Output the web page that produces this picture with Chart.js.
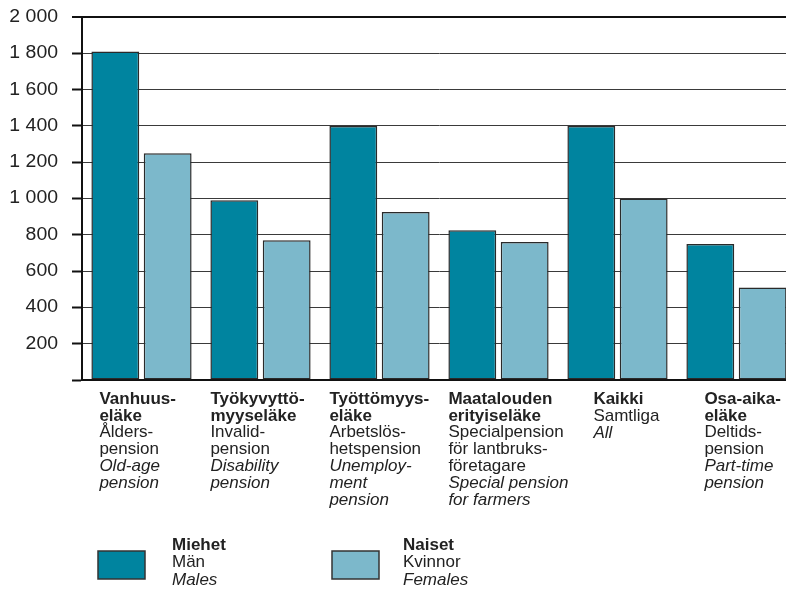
<!DOCTYPE html>
<html>
<head>
<meta charset="utf-8">
<script src="https://cdn.jsdelivr.net/npm/chart.js@4/dist/chart.umd.min.js"></script>
<style>
  html, body { margin: 0; padding: 0; background: #fff; overflow: hidden; }
  #wrap { width: 800px; height: 589px; }
</style>
</head>
<body>
<div id="wrap"><canvas id="chart" width="800" height="589"></canvas></div>
<script>
// data
const categories = ['Vanhuuseläke', 'Työkyvyttömyyseläke', 'Työttömyyseläke', 'Maatalouden erityiseläke', 'Kaikki', 'Osa-aikaeläke'];
const males = [1810, 990, 1400, 825, 1400, 750];
const females = [1250, 770, 925, 760, 1000, 510];
const yTicks = [0, 200, 400, 600, 800, 1000, 1200, 1400, 1600, 1800, 2000];

// label text per category: bold lines, swedish lines, english (italic) lines
const boldLines = [['Vanhuus-', 'eläke'], ['Työkyvyttö-', 'myyseläke'], ['Työttömyys-', 'eläke'], ['Maatalouden', 'erityiseläke'], ['Kaikki'], ['Osa-aika-', 'eläke']];
const svLines = [['Ålders-', 'pension'], ['Invalid-', 'pension'], ['Arbetslös-', 'hetspension'], ['Specialpension', 'för lantbruks-', 'företagare'], ['Samtliga'], ['Deltids-', 'pension']];
const enLines = [['Old-age', 'pension'], ['Disability', 'pension'], ['Unemploy-', 'ment', 'pension'], ['Special pension', 'for farmers'], ['All'], ['Part-time', 'pension']];

const legendNames = [['Miehet', 'Män', 'Males'], ['Naiset', 'Kvinnor', 'Females']];

const MEN = '#00849f';
const WOMEN = '#7cb8cb';
const FONT = "'Liberation Sans', Arial, sans-serif";

function fmt(v) {
    return String(v).replace(/\B(?=(\d{3})+(?!\d))/g, ' ');
}

const labelPlugin = {
    id: 'labels',
    afterDraw(chart) {
        const ctx = chart.ctx;
        const meta = chart.getDatasetMeta(0);
        const yScale = chart.scales.y;
        const offs = [8, 0, 0, 0, 26, 18];
        ctx.save();
        ctx.fillStyle = '#222';
        ctx.textBaseline = 'middle';

        // y tick labels, a little wide like the original
        ctx.textAlign = 'right';
        ctx.font = '18px ' + FONT;
        yTicks.forEach(v => {
            if (v === 0) return;
            const y = yScale.getPixelForValue(v);
            ctx.save();
            ctx.translate(58, y);
            ctx.scale(1.08, 1);
            ctx.fillText(fmt(v), 0, 0);
            ctx.restore();
        });

        ctx.textAlign = 'left';
        categories.forEach((c, i) => {
            const bar = meta.data[i];
            const x = bar.x - bar.width / 2 + offs[i];
            let y = 399;
            boldLines[i].forEach(t => {
                ctx.font = 'bold 17px ' + FONT;
                ctx.fillText(t, x, y); y += 16.9;
            });
            svLines[i].forEach(t => {
                ctx.font = '17px ' + FONT;
                ctx.fillText(t, x, y); y += 16.9;
            });
            enLines[i].forEach(t => {
                ctx.font = 'italic 17px ' + FONT;
                ctx.fillText(t, x, y); y += 16.9;
            });
        });

        // legend
        const boxes = [[98, MEN, 172], [332, WOMEN, 403]];
        boxes.forEach((b, i) => {
            ctx.fillStyle = b[1];
            ctx.fillRect(b[0], 551, 47, 28);
            ctx.strokeStyle = '#333';
            ctx.lineWidth = 1.5;
            ctx.strokeRect(b[0], 551, 47, 28);
            ctx.fillStyle = '#222';
            const styles = ['bold ', '', 'italic '];
            legendNames[i].forEach((t, j) => {
                ctx.font = styles[j] + '17px ' + FONT;
                ctx.fillText(t, b[2], 545 + j * 17.5);
            });
        });
        ctx.restore();
    }
};

new Chart(document.getElementById('chart'), {
    type: 'bar',
    data: {
        labels: categories,
        datasets: [
            { label: 'Miehet', data: males, backgroundColor: MEN, borderColor: '#2a2a2a', borderWidth: 1.5, borderSkipped: false },
            { label: 'Naiset', data: females, backgroundColor: WOMEN, borderColor: '#2a2a2a', borderWidth: 1.5, borderSkipped: false }
        ]
    },
    options: {
        responsive: false,
        animation: false,
        layout: { padding: { left: 0, top: 17, right: 4, bottom: 0 } },
        datasets: { bar: { categoryPercentage: 0.88, barPercentage: 0.914 } },
        plugins: { legend: { display: false }, tooltip: { enabled: false } },
        scales: {
            x: {
                grid: { display: false },
                ticks: { display: false },
                border: { display: true, color: '#111', width: 2 },
                afterFit(scale) { scale.height = 209; }
            },
            y: {
                min: 0,
                max: 2000,
                afterBuildTicks(scale) { scale.ticks = yTicks.map(v => ({ value: v })); },
                afterFit(scale) { scale.width = 82; },
                ticks: { display: false },
                grid: {
                    color: c => c.tick && c.tick.value === 2000 ? '#111' : '#3a3a3a',
                    lineWidth: c => c.tick && c.tick.value === 2000 ? 2 : 1,
                    drawTicks: true,
                    tickLength: 10,
                    tickColor: '#111',
                    tickWidth: 2
                },
                border: { display: true, color: '#111', width: 2 }
            }
        }
    },
    plugins: [labelPlugin]
});
</script>
</body>
</html>
